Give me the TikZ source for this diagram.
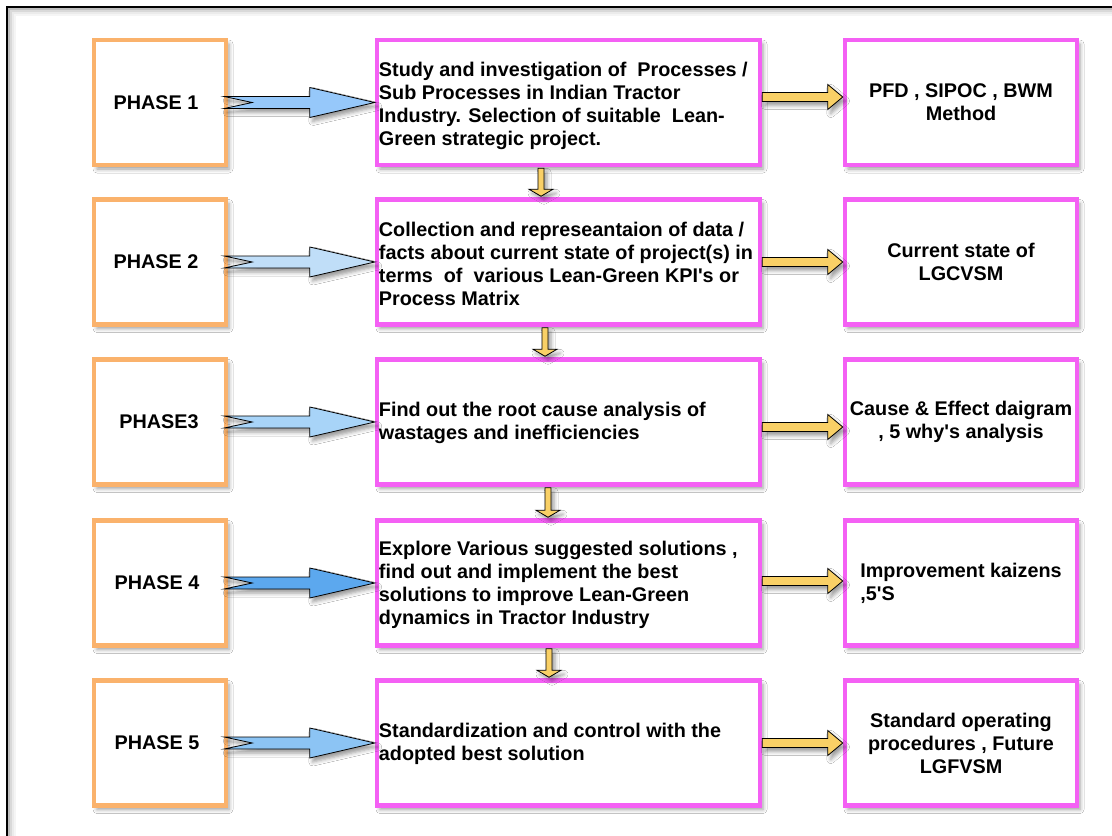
\documentclass[tikz,border=0pt]{standalone}
\usepackage{fontspec}
\setmainfont{Liberation Sans}
\usetikzlibrary{calc,shadows.blur}

\definecolor{phaseorange}{RGB}{250,178,108}
\definecolor{stepmagenta}{RGB}{244,96,244}
\definecolor{flowyellow}{RGB}{249,208,102}
\definecolor{blueA}{RGB}{150,200,250}
\definecolor{blueB}{RGB}{192,222,248}
\definecolor{blueC}{RGB}{168,212,248}
\definecolor{blueD}{RGB}{92,168,238}
\definecolor{blueE}{RGB}{140,196,244}

\tikzset{
  softshadow/.style={blur shadow={shadow xshift=3pt, shadow yshift=-4pt,
      shadow blur radius=4pt, shadow opacity=40}},
  every node/.style={font=\bfseries\fontsize{19.8}{23}\selectfont, text=black},
  phasebox/.style={draw=phaseorange, line width=4.5pt, fill=white,
      minimum width=132pt, minimum height=125pt, inner sep=0pt, softshadow},
  taskbox/.style={draw=stepmagenta, line width=4.5pt, fill=white,
      minimum width=383pt, minimum height=125pt, inner sep=0pt, softshadow},
  toolbox/.style={draw=stepmagenta, line width=4.5pt, fill=white,
      minimum width=232pt, minimum height=125pt, inner sep=0pt, align=center, softshadow},
  tasktext/.style={anchor=west, align=left, inner sep=0pt},
  arrowline/.style={draw=black, line width=0.8pt, line join=miter, softshadow},
}

% notched block arrow from a phase box into its task box
\newcommand\phasearrow[3]{%
  \draw[arrowline, fill=#3]
    ($(#1.east)+(-4,-6)$) -- ($(#2.west)+(-65,-6)$) -- ($(#2.west)+(-65,-15)$)
    -- (#2.west) -- ($(#2.west)+(-65,15)$) -- ($(#2.west)+(-65,6)$)
    -- ($(#1.east)+(-4,6)$) -- ($(#1.east)+(24,0)$) -- cycle;}

% small yellow arrow from a task box to its tool box, shifted by #3
\newcommand\toolarrow[3]{%
  \draw[arrowline, fill=flowyellow]
    ($(#1.east)+(0,#3-4.5)$) -- ($(#2.west)+(-15,#3-4.5)$) -- ($(#2.west)+(-15,#3-12.5)$)
    -- ($(#2.west)+(0,#3)$) -- ($(#2.west)+(-15,#3+12.5)$) -- ($(#2.west)+(-15,#3+4.5)$)
    -- ($(#1.east)+(0,#3+4.5)$) -- cycle;}

% short downward arrow between consecutive task boxes, shifted by #3
\newcommand\nextarrow[3]{%
  \draw[arrowline, fill=flowyellow]
    ($(#1.south)+(#3-3,1)$) -- ($(#2.north)+(#3-3,-8)$) -- ($(#2.north)+(#3-12,-8)$)
    -- ($(#2.north)+(#3,-1)$) -- ($(#2.north)+(#3+12,-8)$) -- ($(#2.north)+(#3+3,-8)$)
    -- ($(#1.south)+(#3+3,1)$) -- cycle;}

\begin{document}
\begin{tikzpicture}[x=1pt,y=-1pt]
\useasboundingbox (0,0) rectangle (1112,836);
\fill[white] (0,0) rectangle (1112,836);

% page frame with a faint inner shade
\foreach \d/\o in {2/0.25,4/0.15,6/0.08,8/0.04}{
  \draw[black, opacity=\o, line width=2pt] (7+\d,836) -- (7+\d,7+\d) -- (1112,7+\d);
}
\draw[black, line width=2pt] (7,836) -- (7,7) -- (1112,7);

% phase column
\node[phasebox] (p1) at (160,102.5) {};
\node[phasebox] (p2) at (160,262) {};
\node[phasebox] (p3) at (160,422) {};
\node[phasebox] (p4) at (160,583) {};
\node[phasebox] (p5) at (160,743) {};
\node (p1t) at (156,102.5) {PHASE 1};
\node (p2t) at (156,262) {PHASE 2};
\node (p3t) at (159,422) {PHASE3};
\node (p4t) at (157,583) {PHASE 4};
\node (p5t) at (157,743) {PHASE 5};

% task column
\node[taskbox] (m1) at (568.5,102.5) {};
\node[taskbox] (m2) at (568.5,262) {};
\node[taskbox] (m3) at (568.5,422) {};
\node[taskbox] (m4) at (568.5,583) {};
\node[taskbox] (m5) at (568.5,743) {};
\node[tasktext] (m1t) at ($(m1.west)+(4,3)$) {Study and investigation of\ \ Processes /\\Sub Processes in Indian Tractor\\Industry. Selection of suitable\ \ Lean-\\Green strategic project.};
\node[tasktext] (m2t) at ($(m2.west)+(4,2)$) {Collection and represeantaion of data /\\facts about current state of project(s) in\\terms\ \ of\ \ various Lean-Green KPI\textquotesingle s or\\Process Matrix};
\node[tasktext] (m3t) at ($(m3.west)+(4,1)$) {Find out the root cause analysis of\\wastages and inefficiencies};
\node[tasktext] (m4t) at ($(m4.west)+(4,2)$) {Explore Various suggested solutions ,\\find out and implement the best\\solutions to improve Lean-Green\\dynamics in Tractor Industry};
\node[tasktext] (m5t) at ($(m5.west)+(4,1)$) {Standardization and control with the\\adopted best solution};

% tool column
\node[toolbox] (r1) at (961,102.5) {PFD , SIPOC , BWM\\Method};
\node[toolbox] (r2) at (961,262) {Current state of\\LGCVSM};
\node[toolbox] (r3) at (961,422) {Cause \& Effect daigram\\, 5 why\textquotesingle s analysis};
\node[toolbox, align=left] (r4) at (961,583) {Improvement kaizens\\,5\textquotesingle S};
\node[toolbox] (r5) at (961,743) {Standard operating\\procedures , Future\\LGFVSM};

% phase to task arrows
\phasearrow{p1}{m1}{blueA}
\phasearrow{p2}{m2}{blueB}
\phasearrow{p3}{m3}{blueC}
\phasearrow{p4}{m4}{blueD}
\phasearrow{p5}{m5}{blueE}

% task to tool arrows
\toolarrow{m1}{r1}{-5.5}
\toolarrow{m2}{r2}{0}
\toolarrow{m3}{r3}{5}
\toolarrow{m4}{r4}{-2}
\toolarrow{m5}{r5}{0}

% task sequence arrows
\nextarrow{m1}{m2}{-27.5}
\nextarrow{m2}{m3}{-23.5}
\nextarrow{m3}{m4}{-20.5}
\nextarrow{m4}{m5}{-19.5}
\end{tikzpicture}
\end{document}
